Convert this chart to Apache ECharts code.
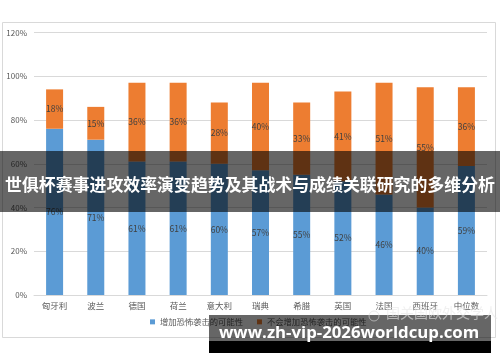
<!DOCTYPE html>
<html><head><meta charset="utf-8">
<script src="https://cdn.jsdelivr.net/npm/echarts@6/dist/echarts.min.js"></script>
<style>html,body{margin:0;padding:0;background:#fff}#c{width:500px;height:362px}</style>
</head><body><div id="c"></div>
<script>
const categories = ['匈牙利','波兰','德国','荷兰','意大利','瑞典','希腊','英国','法国','西班牙','中位数'];
const increaseRisk = [76,71,61,61,60,57,55,52,46,40,59];
const noIncrease = [18,15,36,36,28,40,33,41,51,55,36];
const seriesNames = ['增加恐怖袭击的可能性','不会增加恐怖袭击的可能性'];
const yTicks = {min:0, max:120, interval:20};
const titleText = '世俱杯赛事进攻效率演变趋势及其战术与成绩关联研究的多维分析';
const urlText = 'www.zh-vip-2026worldcup.com';
const watermark = '国关国欧外交学人';

const chart = echarts.init(document.getElementById('c'), null, {renderer:'canvas'});
const ff = '"Noto Sans CJK SC", sans-serif';
const lbl = {show:true, position:'inside', color:'#404040', fontSize:8.5, fontFamily:ff, formatter:p=>p.value+'%'};
chart.setOption({
  animation:false,
  backgroundColor:'#fff',
  grid:{left:34, right:13, top:32.5, bottom:67, containLabel:false},
  legend:{bottom:31, left:145, itemWidth:5, itemHeight:5, itemGap:14, icon:'rect',
    textStyle:{color:'#595959', fontSize:8.3, fontFamily:ff}, data:seriesNames},
  xAxis:{type:'category', data:categories,
    axisLine:{lineStyle:{color:'#D9D9D9'}}, axisTick:{show:false},
    axisLabel:{color:'#595959', fontSize:8.5, fontFamily:ff, margin:7}},
  yAxis:{type:'value', min:yTicks.min, max:yTicks.max, interval:yTicks.interval,
    axisLine:{show:false}, axisTick:{show:false},
    splitLine:{lineStyle:{color:'#D9D9D9'}},
    axisLabel:{color:'#595959', fontSize:8, fontFamily:ff, margin:7, formatter:'{value}%'}},
  series:[
    {name:seriesNames[0], type:'bar', stack:'a', data:increaseRisk, barWidth:17,
     itemStyle:{color:'#5B9BD5'}, label:lbl},
    {name:seriesNames[1], type:'bar', stack:'a', data:noIncrease, barWidth:17,
     itemStyle:{color:'#ED7D31'}, label:lbl}
  ],
  graphic:[
    {type:'rect', z:-10, silent:true, shape:{x:2.5, y:22.5, width:493, height:315},
     style:{fill:null, stroke:'#D9D9D9', lineWidth:1}},
    {type:'rect', z:100, silent:true, shape:{x:0, y:151, width:500, height:61},
     style:{fill:'rgba(0,0,0,0.6)'}},
    {type:'text', z:101, silent:true, left:'center', top:176,
     style:{text:titleText, fill:'#fff', font:'bold 16.9px "Noto Sans CJK SC", sans-serif'}},
    {type:'rect', z:100, silent:true, shape:{x:209, y:315, width:282, height:26},
     style:{fill:'rgba(0,0,0,0.6)'}},
    {type:'rect', z:100, silent:true, shape:{x:209, y:341, width:282, height:12},
     style:{fill:'#000'}},
    {type:'circle', z:102, silent:true, shape:{cx:374, cy:316, r:5},
     style:{fill:null, stroke:'rgba(220,220,220,0.6)', lineWidth:1}},
    {type:'text', z:102, silent:true, left:386, top:306,
     style:{text:watermark, fill:'rgba(230,230,230,0.6)', font:'14px "Noto Sans CJK SC", sans-serif'}},
    {type:'text', z:103, silent:true, left:219, top:325,
     style:{text:urlText, fill:'#fff', font:'bold 16.8px "Open Sans", sans-serif'}}
  ]
});
</script></body></html>
